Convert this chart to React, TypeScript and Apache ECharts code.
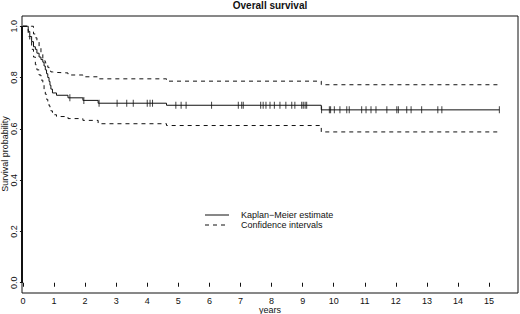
import React, { useEffect, useRef } from "react";
import * as echarts from "echarts";

const times = [0, 0.17, 0.22, 0.28, 0.34, 0.40, 0.45, 0.52, 0.58, 0.64, 0.68, 0.72, 0.76, 0.80, 0.84, 0.87, 0.90, 0.95, 1.08, 1.45, 1.93, 2.42, 4.62, 9.60, 15.33];
const kmSurv = [1.0, 0.98, 0.96, 0.94, 0.92, 0.91, 0.895, 0.88, 0.87, 0.86, 0.845, 0.83, 0.815, 0.80, 0.785, 0.77, 0.755, 0.74, 0.731, 0.721, 0.711, 0.700, 0.692, 0.674, 0.674];
const upperCI = [1.0, 1.0, 1.0, 1.0, 0.97, 0.955, 0.94, 0.92, 0.895, 0.875, 0.865, 0.857, 0.85, 0.84, 0.83, 0.825, 0.822, 0.82, 0.818, 0.81, 0.803, 0.795, 0.786, 0.772, 0.772];
const lowerCI = [1.0, 0.96, 0.94, 0.91, 0.88, 0.85, 0.83, 0.81, 0.79, 0.77, 0.755, 0.735, 0.715, 0.70, 0.69, 0.68, 0.67, 0.655, 0.648, 0.64, 0.633, 0.62, 0.613, 0.588, 0.588];
const censorTimes = [1.51, 1.96, 2.45, 3.03, 3.34, 3.55, 4.00, 4.09, 4.17, 4.92, 5.09, 5.25, 6.07, 6.93, 7.04, 7.09, 7.65, 7.73, 7.82, 7.95, 8.09, 8.27, 8.46, 8.65, 8.75, 8.97, 9.02, 9.08, 9.13, 9.61, 9.86, 9.90, 10.02, 10.20, 10.42, 10.50, 10.90, 11.04, 11.20, 11.36, 11.71, 12.03, 12.08, 12.35, 12.49, 12.83, 13.35, 13.48, 15.33];
const xTicks = [0, 1, 2, 3, 4, 5, 6, 7, 8, 9, 10, 11, 12, 13, 14, 15];
const yTicks = [0, 0.2, 0.4, 0.6, 0.8, 1.0];

const FONT = "Liberation Sans";
const INK = "#111";

function survAt(t: number): number {
  let s = kmSurv[0];
  for (let i = 0; i < times.length; i++) {
    if (times[i] <= t) s = kmSurv[i];
  }
  return s;
}

export default function App() {
  const ref = useRef<HTMLDivElement>(null);
  useEffect(() => {
    if (!ref.current) return;
    const chart = echarts.init(ref.current, null, { renderer: "svg" });
    const zip = (ys: number[]) => times.map((t, i) => [t, ys[i]]);
    chart.setOption({
      animation: false,
      backgroundColor: "#fff",
      title: {
        text: "Overall survival",
        left: 270,
        top: 0,
        padding: 0,
        textAlign: "center",
        textStyle: { fontFamily: FONT, fontSize: 10, fontWeight: "bold", color: INK },
      },
      grid: {
        left: 22,
        top: 16,
        right: 2,
        bottom: 21,
        containLabel: false,
        outerBoundsMode: "none",
        show: true,
        borderColor: INK,
        borderWidth: 1,
        backgroundColor: "transparent",
      },
      xAxis: {
        type: "value",
        min: -0.03,
        max: 15.93,
        axisLine: { show: false },
        splitLine: { show: false },
        axisTick: { show: true, length: 4, inside: false, customValues: xTicks, lineStyle: { color: INK } },
        axisLabel: {
          customValues: xTicks,
          fontFamily: FONT,
          fontSize: 9,
          color: INK,
          margin: 3,
        },
      },
      yAxis: {
        type: "value",
        min: -0.04,
        max: 1.04,
        axisLine: { show: false },
        splitLine: { show: false },
        axisTick: { show: true, length: 3, customValues: yTicks, lineStyle: { color: INK } },
        axisLabel: {
          customValues: yTicks,
          rotate: 90,
          fontFamily: FONT,
          fontSize: 9,
          color: INK,
          margin: 4,
          formatter: (v: number) => v.toFixed(1),
        },
      },
      graphic: [
        { type: "line", shape: { x1: 22, y1: 26, x2: 22, y2: 283 }, style: { stroke: INK, lineWidth: 2 } },
        { type: "text", x: 270, y: 310, style: { text: "years", fontFamily: FONT, fontSize: 9, fill: INK, align: "center", verticalAlign: "middle" } },
        { type: "text", x: 5, y: 154, rotation: Math.PI / 2, style: { text: "Survival probability", fontFamily: FONT, fontSize: 9, fill: INK, align: "center", verticalAlign: "middle" } },
        { type: "line", shape: { x1: 205, y1: 215, x2: 229, y2: 215 }, style: { stroke: INK, lineWidth: 1 } },
        { type: "line", shape: { x1: 205, y1: 225, x2: 229, y2: 225 }, style: { stroke: INK, lineWidth: 1, lineDash: [4, 4] } },
        { type: "text", x: 241, y: 215, style: { text: "Kaplan\u2212Meier estimate", fontFamily: FONT, fontSize: 9, fill: INK, verticalAlign: "middle" } },
        { type: "text", x: 241, y: 225, style: { text: "Confidence intervals", fontFamily: FONT, fontSize: 9, fill: INK, verticalAlign: "middle" } },
      ],
      series: [
        {
          type: "line",
          step: "end",
          data: zip(kmSurv),
          symbol: "none",
          lineStyle: { color: INK, width: 1 },
        },
        {
          type: "line",
          step: "end",
          data: zip(upperCI),
          symbol: "none",
          lineStyle: { color: INK, width: 1, type: [4, 4] },
        },
        {
          type: "line",
          step: "end",
          data: zip(lowerCI),
          symbol: "none",
          lineStyle: { color: INK, width: 1, type: [4, 4] },
        },
        {
          type: "scatter",
          data: censorTimes.map((t) => [t, survAt(t)]),
          symbol: "rect",
          symbolSize: [1, 7],
          itemStyle: { color: INK },
        },
      ],
    });
    return () => chart.dispose();
  }, []);
  return <div ref={ref} style={{ width: 520, height: 314, position: "absolute", left: 0, top: 0 }} />;
}
